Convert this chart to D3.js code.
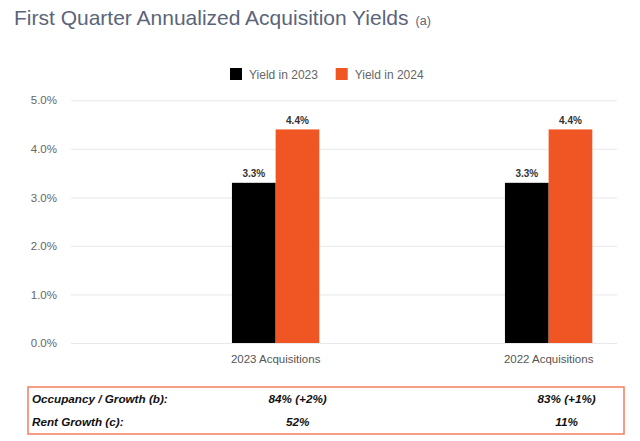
<!DOCTYPE html>
<html>
<head>
<meta charset="utf-8">
<script src="https://cdn.jsdelivr.net/npm/d3@7"></script>
<style>
  html, body { margin: 0; padding: 0; background: #fff; }
  svg { display: block; font-family: "Liberation Sans", Arial, Helvetica, sans-serif; }
</style>
</head>
<body>
<svg id="chart" width="640" height="441"></svg>
<script>
// ---- data ----
const title = "First Quarter Annualized Acquisition Yields";
const titleNote = "(a)";
const categories = ["2023 Acquisitions", "2022 Acquisitions"];
const seriesNames = ["Yield in 2023", "Yield in 2024"];
const yield2023 = [3.3, 3.3];
const yield2024 = [4.4, 4.4];
const yTicks = [0, 1, 2, 3, 4, 5];
const tableLabels = ["Occupancy / Growth (b):", "Rent Growth (c):"];
const tableCol2023 = ["84% (+2%)", "52%"];
const tableCol2022 = ["83% (+1%)", "11%"];

// ---- styles / layout ----
const colors = ["#000000", "#f05623"];
const plot = { left: 71, right: 617, top: 100.3, bottom: 343 };

const svg = d3.select("#chart");

// title
const t = svg.append("text").attr("x", 14).attr("y", 25)
  .attr("fill", "#5b6579").attr("font-size", 21);
t.append("tspan").text(title);
t.append("tspan").attr("font-size", 12.5).attr("dx", 7).text(titleNote);

// scales
const y = d3.scaleLinear().domain([0, 5]).range([plot.bottom, plot.top]);
const x0 = d3.scaleBand().domain(categories).range([plot.left, plot.right])
  .paddingInner(0.68).paddingOuter(0.34).align(0.867);
const x1 = d3.scaleBand().domain(seriesNames).range([0, x0.bandwidth()]);
const color = d3.scaleOrdinal().domain(seriesNames).range(colors);

// gridlines + y labels via axis
const yAxis = d3.axisLeft(y).tickValues(yTicks)
  .tickSize(-(plot.right - plot.left)).tickPadding(14)
  .tickFormat(d => d3.format(".1f")(d) + "%");
const gy = svg.append("g").attr("transform", `translate(${plot.left},0)`).call(yAxis);
gy.select(".domain").remove();
gy.selectAll(".tick line").attr("stroke", "#e8e8e8").attr("stroke-width", 1);
gy.selectAll(".tick text").attr("fill", "#666").attr("font-size", 11.5)
  .attr("font-family", "'Liberation Sans', Arial, sans-serif");

// bars
const rows = categories.map((c, i) => ({ cat: c, vals: [yield2023[i], yield2024[i]] }));
const groups = svg.append("g").selectAll("g").data(rows).join("g")
  .attr("transform", d => `translate(${x0(d.cat)},0)`);
const bars = groups.selectAll("g.bar").data(d => d.vals.map((v, j) => ({ s: seriesNames[j], v })))
  .join("g").attr("class", "bar");
bars.append("rect")
  .attr("x", d => x1(d.s)).attr("width", x1.bandwidth())
  .attr("y", d => y(d.v)).attr("height", d => y(0) - y(d.v))
  .attr("fill", d => color(d.s));
bars.append("text")
  .attr("x", d => x1(d.s) + x1.bandwidth() / 2).attr("y", d => y(d.v) - 5.5)
  .attr("text-anchor", "middle").attr("font-size", 10).attr("font-weight", "bold")
  .attr("fill", "#333").text(d => d3.format(".1f")(d.v) + "%");

// x axis labels
const xAxis = d3.axisBottom(x0).tickSize(0).tickPadding(12);
const gx = svg.append("g").attr("transform", `translate(0,${plot.bottom})`).call(xAxis);
gx.select(".domain").remove();
gx.selectAll(".tick text").attr("fill", "#555").attr("font-size", 11.5)
  .attr("font-family", "'Liberation Sans', Arial, sans-serif");

// legend
const legendX = [230, 335.7];
const lg = svg.append("g").selectAll("g").data(seriesNames).join("g")
  .attr("transform", (d, i) => `translate(${legendX[i]},68)`);
lg.append("rect").attr("width", 12).attr("height", 12).attr("fill", d => color(d));
lg.append("text").attr("x", 19).attr("y", 11).attr("font-size", 12)
  .attr("fill", "#666").text(d => d);

// table
svg.append("rect").attr("x", 28).attr("y", 387).attr("width", 596).attr("height", 47)
  .attr("fill", "none").attr("stroke", "#f47d5b").attr("stroke-width", 1.5);
const rowY = [402.5, 425.5];
const tg = svg.append("g").attr("font-size", 11.7).attr("font-weight", "bold")
  .attr("font-style", "italic").attr("fill", "#111");
tableLabels.forEach((lab, i) => {
  tg.append("text").attr("x", 32).attr("y", rowY[i]).text(lab);
  tg.append("text").attr("x", x0(categories[0]) + x0.bandwidth() / 2 + 22).attr("y", rowY[i])
    .attr("text-anchor", "middle").text(tableCol2023[i]);
  tg.append("text").attr("x", x0(categories[1]) + x0.bandwidth() / 2 + 18).attr("y", rowY[i])
    .attr("text-anchor", "middle").text(tableCol2022[i]);
});
</script>
</body>
</html>
